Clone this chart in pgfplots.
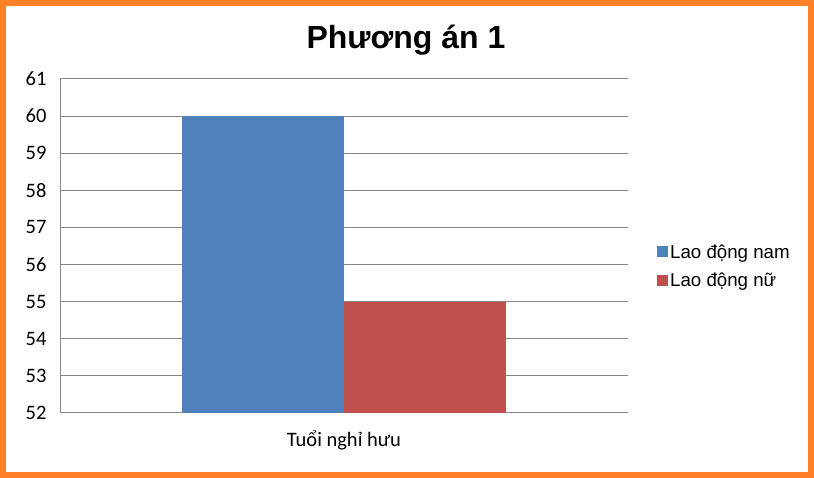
\documentclass[border=0pt]{standalone}
\usepackage{pgfplots}
\pgfplotsset{compat=1.18}
\usepackage{fontspec}
\setmainfont{Carlito}
\newfontfamily\arialf{Liberation Sans}
\definecolor{barblue}{HTML}{4F81BD}
\definecolor{barred}{HTML}{C0504D}
\definecolor{gridgray}{HTML}{868686}
\definecolor{frameorange}{HTML}{FF8026}
\begin{document}
\begin{tikzpicture}
\path[use as bounding box] (0pt,0pt) rectangle (814pt,478pt);
\begin{axis}[
    at={(60pt,65pt)}, anchor=south west,
    scale only axis,
    width=568pt, height=334pt,
    xmin=-1, xmax=1,
    ymin=52, ymax=61,
    ytick={52,...,61},
    xtick={0},
    xticklabels={Tuổi nghỉ hưu},
    ymajorgrids,
    grid style={gridgray, line width=1pt},
    axis lines*=left,
    axis line style={gridgray, line width=1pt},
    major tick length=0pt,
    /pgf/number format/assume math mode=true,
    tick label style={font=\fontsize{20.5}{23}\selectfont, text=black},
    yticklabel style={xshift=-10pt},
    xticklabel style={yshift=-14pt},
    ybar,
    bar width=0.572,
    legend style={draw=none, fill=none, at={(1.051,0.44)}, anchor=west,
        font=\arialf\fontsize{18.7}{22}\selectfont, row sep=9pt,
        inner sep=0pt},
    legend cell align=left,
]
\addplot[fill=barblue, draw=none, bar shift=-0.286,
    legend image code/.code={\fill[barblue] (0pt,-5.5pt) rectangle (11pt,5.5pt);}]
    coordinates {(0,60)};
\addplot[fill=barred, draw=none, bar shift=0.286,
    legend image code/.code={\fill[barred] (0pt,-5.5pt) rectangle (11pt,5.5pt);}]
    coordinates {(0,55)};
\legend{Lao động nam, Lao động nữ}
\end{axis}
\node[anchor=base, font=\arialf\bfseries\fontsize{32}{36}\selectfont] at (406pt,429pt) {Phương án 1};
\draw[frameorange, line width=6pt] (3pt,3pt) rectangle (811pt,475pt);
\end{tikzpicture}
\end{document}
